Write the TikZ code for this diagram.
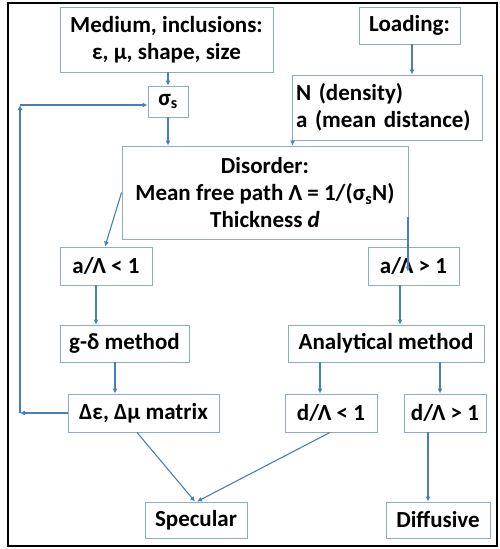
\documentclass[tikz,border=0pt]{standalone}
\usepackage{fontspec}
\setmainfont{Carlito}
\usetikzlibrary{arrows.meta,calc}
\definecolor{boxc}{HTML}{8FAAD2}
\definecolor{arrc}{HTML}{4A7EBB}
\begin{document}
\begin{tikzpicture}[x=1pt,y=1pt,
  bx/.style={draw=boxc,line width=0.9pt,rectangle,inner sep=2pt,align=center,
    font=\fontsize{23}{27}\selectfont\bfseries},
  arr/.style={draw=arrc,line width=1.1pt,-{Latex[length=5pt,width=5pt]}}]
\useasboundingbox (0,0) rectangle (500,549);
\draw[line width=1.6pt] (8,3) rectangle (497,546);
\node[bx,minimum width=213pt,minimum height=65pt] (med) at (166.5,509.5) {Medium, inclusions:\\ε, μ, shape, size};
\node[bx,minimum width=101pt,minimum height=37pt] (load) at (409.5,523.5) {Loading:};
\node[bx,minimum width=40pt,minimum height=31pt] (sig) at (168,447.5) {σ\textsubscript{s}};
\node[bx,minimum width=190pt,minimum height=65pt,align=left,text width=182pt] (nbox) at (387,441.5) {N (density)\\a (mean distance)};
\node[bx,minimum width=286pt,minimum height=93pt] (dis) at (265,356.5) {Disorder:\\Mean free path Λ = 1/(σ\textsubscript{s}N)\\Thickness \textit{d}};
\node[bx,minimum width=92pt,minimum height=38pt] (a1) at (106,283) {a/Λ < 1};
\node[bx,minimum width=91pt,minimum height=38pt] (a2) at (413.5,283) {a/Λ > 1};
\node[bx,minimum width=129pt,minimum height=37pt] (gd) at (124.5,205.5) {g-δ method};
\node[bx,minimum width=196pt,minimum height=37pt] (an) at (386,205.5) {Analytical method};
\node[bx,minimum width=151pt,minimum height=38pt] (de) at (143.5,136) {Δε, Δμ matrix};
\node[bx,minimum width=92pt,minimum height=38pt] (d1) at (331,136) {d/Λ < 1};
\node[bx,minimum width=82pt,minimum height=38pt] (d2) at (445,136) {d/Λ > 1};
\node[bx,minimum width=102pt,minimum height=36pt] (spec) at (196,29) {Specular};
\node[bx,minimum width=104pt,minimum height=36pt] (diff) at (438,29) {Diffusive};
% connectors
\draw[arr] (med.south -| sig.north) -- (sig.north);
\draw[arr] ([xshift=2.5pt]load.south) -- ([xshift=2.5pt]load.south |- nbox.north);
\draw[arr] (sig.south) -- (sig.south |- dis.north);
\draw[arr] ([xshift=1pt]nbox.south west) -- ([xshift=1pt]nbox.south west |- dis.north);
\draw[arr] (dis.west) -- ([xshift=-1pt]a1.north);
\draw[arr] ([xshift=-0.5pt,yshift=-25pt]dis.east) -- ([xshift=-0.5pt,yshift=-25pt]dis.east |- a2.north);
\draw[arr] ([xshift=-10pt]a1.south) -- ([xshift=-10pt]a1.south |- gd.north);
\draw[arr] ([xshift=-13.5pt]a2.south) -- ([xshift=-13.5pt]a2.south |- an.north);
\draw[arr] ([xshift=-9.5pt]gd.south) -- ([xshift=-9.5pt]gd.south |- de.north);
\draw[arr] ([xshift=-66pt]an.south) -- ([xshift=-66pt]an.south |- d1.north);
\draw[arr] ([xshift=54pt]an.south) -- ([xshift=54pt]an.south |- d2.north);
\draw[arr] ([xshift=-6.5pt]de.south) -- ([xshift=-1pt]spec.north);
\draw[arr] ([xshift=-1pt]d1.south) -- ([xshift=1pt]spec.north);
\draw[arr] ([xshift=-17pt]d2.south) -- ([xshift=-17pt]d2.south |- diff.north);
% feedback loop
\coordinate (c1) at (20,136);
\coordinate (c2) at (20,444);
\draw[arr] (de.west) -- (c1);
\draw[arr] (c1) -- (c2);
\draw[arr] (c2) -- (c2 -| sig.west);
\end{tikzpicture}
\end{document}
